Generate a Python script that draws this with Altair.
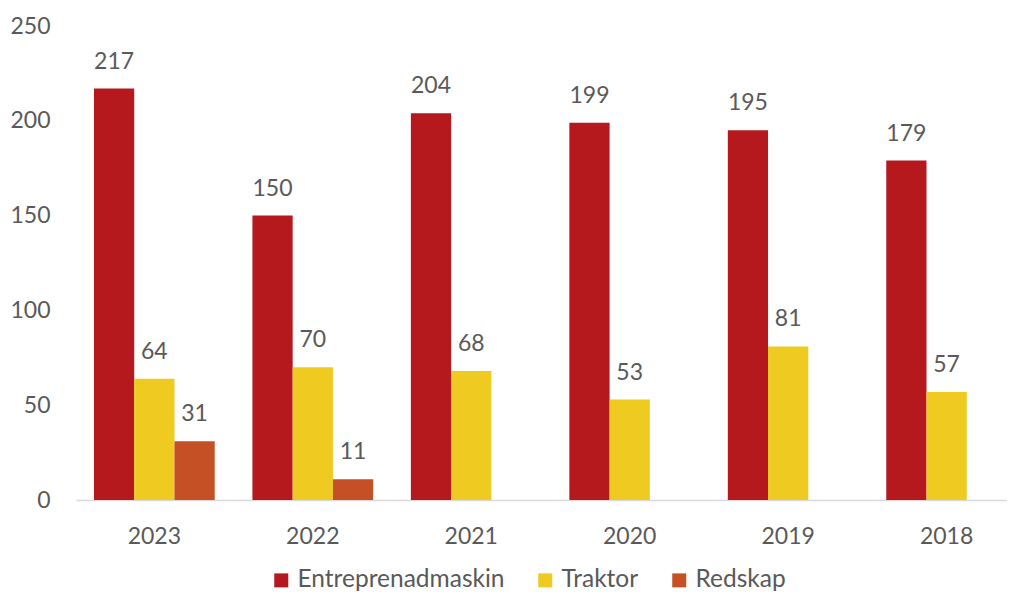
import altair as alt
import pandas as pd

years = ["2023", "2022", "2021", "2020", "2019", "2018"]
series = ["Entreprenadmaskin", "Traktor", "Redskap"]
entreprenadmaskin = [217, 150, 204, 199, 195, 179]
traktor = [64, 70, 68, 53, 81, 57]
redskap = [31, 11, None, None, None, None]
colors = ["#B5191E", "#EFCA21", "#C55025"]

rows = []
for i, y in enumerate(years):
    for s, vals in zip(series, [entreprenadmaskin, traktor, redskap]):
        if vals[i] is not None:
            rows.append({"year": y, "series": s, "value": vals[i]})
df = pd.DataFrame(rows)

FONT = "Lato"
TXT = "#595959"
FS = 23
LFS = 24.5

x = alt.X("year:N", sort=years, title=None,
          scale=alt.Scale(paddingInner=0.238, paddingOuter=0.0567, align=1),
          axis=alt.Axis(labelAngle=0, labelFontSize=FS, labelColor=TXT, labelFont=FONT,
                        ticks=False, domainColor="#D9D9D9", domainWidth=1.5, labelPadding=25))
xo = alt.XOffset("series:N", sort=series, scale=alt.Scale(domain=series, paddingInner=0, paddingOuter=0))
y = alt.Y("value:Q", title=None,
          scale=alt.Scale(domain=[0, 250], nice=False),
          axis=alt.Axis(values=[0, 50, 100, 150, 200, 250], grid=False, domain=False, ticks=False,
                        labelFontSize=FS, labelColor=TXT, labelFont=FONT, labelPadding=26))

bars = alt.Chart(df).mark_bar().encode(
    x=x, xOffset=xo, y=y,
    color=alt.Color("series:N", sort=series,
                    scale=alt.Scale(domain=series, range=colors),
                    legend=alt.Legend(title=None, orient="none", direction="horizontal",
                                      legendX=193, legendY=542,
                                      symbolType="square", symbolSize=196, symbolStrokeWidth=0,
                                      labelFontSize=LFS, labelColor=TXT, labelFont=FONT,
                                      columnPadding=28, labelOffset=4, labelLimit=300)),
)
labels = alt.Chart(df).mark_text(baseline="alphabetic", dy=-20, fontSize=FS, color=TXT, font=FONT).encode(
    x=x, xOffset=xo, y=y, text="value:Q")

chart = (bars + labels).properties(
    width=931, height=474,
    autosize=alt.AutoSizeParams(type="none"),
    padding={"left": 68, "top": 18, "right": 0, "bottom": 96},
).configure_view(stroke=None)

chart.save("out.html", embed_options={"renderer": "svg", "actions": False})
